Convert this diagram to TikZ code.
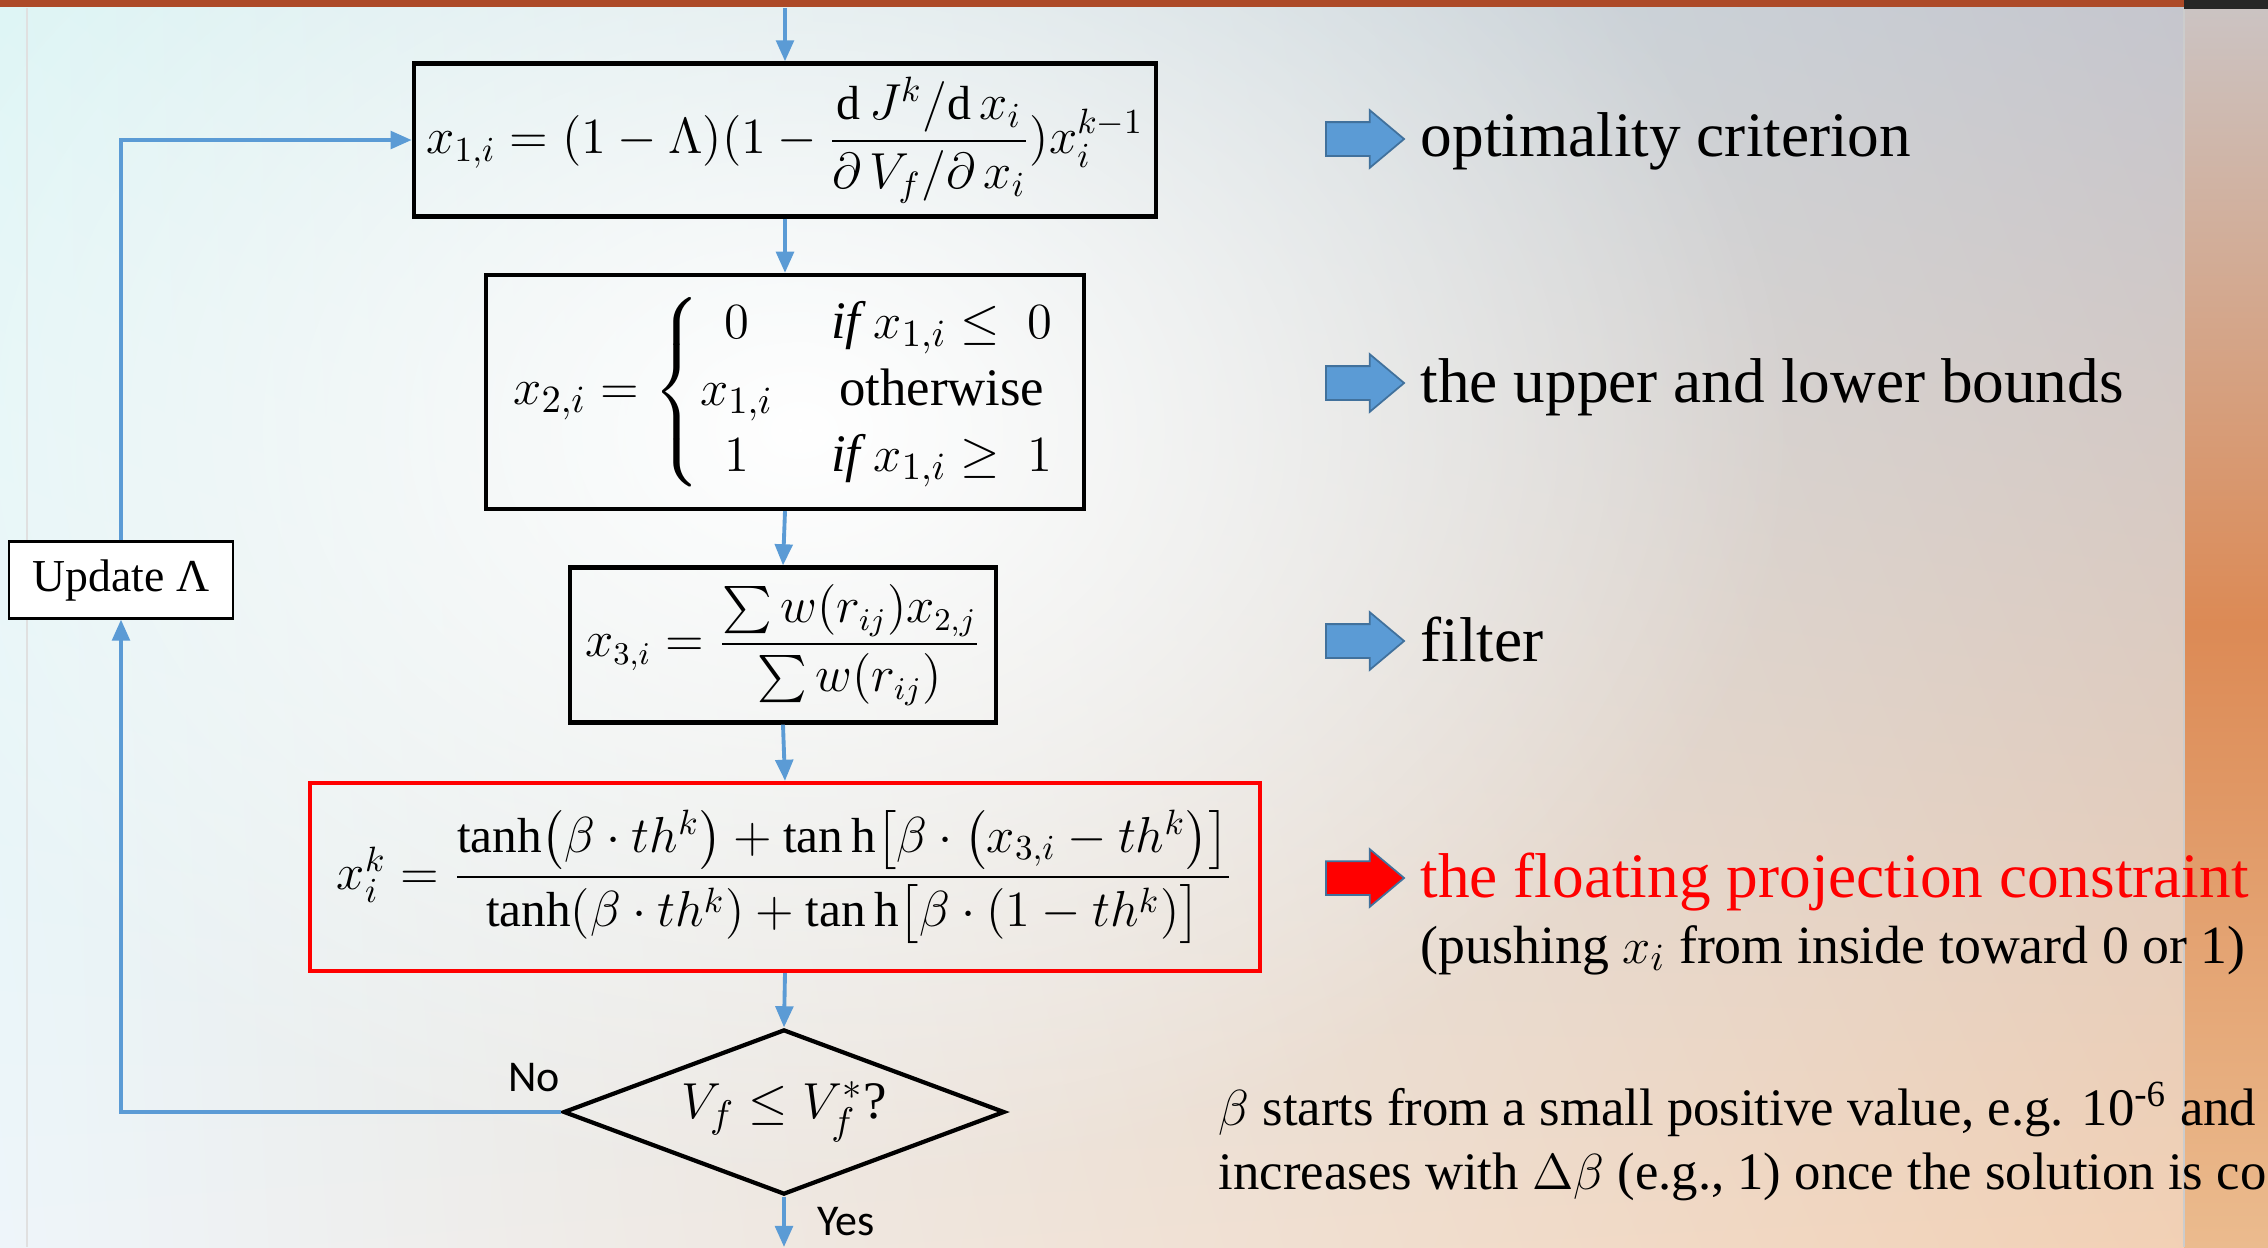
\documentclass[tikz,border=0pt]{standalone}
\usepackage{amsmath}
\usepackage{amssymb}
\usepackage{fontspec}
\setmainfont{Liberation Serif}
\newfontfamily\calib{Carlito}
\usetikzlibrary{positioning,calc,arrows.meta,shapes.geometric,shapes.arrows,fadings,shadings}
\usepackage{xcolor}
\definecolor{lineblue}{HTML}{5B9BD5}
\definecolor{edgeblue}{HTML}{41719C}
\definecolor{barbrown}{HTML}{AD4A28}
\definecolor{bgcyan}{HTML}{DDF5F5}
\definecolor{bggray}{HTML}{C4C4CC}
\definecolor{bgpale}{HTML}{EEF5FA}
\definecolor{bgpeach}{HTML}{F2CFB2}
\definecolor{striptop}{HTML}{CBC4C4}
\definecolor{stripmid}{HTML}{DC8A55}
\definecolor{stripbot}{HTML}{EBBB8E}
\tikzfading[name=glow, inner color=transparent!0, outer color=transparent!100]

\begin{document}
\begin{tikzpicture}[
    x=0.01cm, y=-0.01cm,
    eqbox/.style={draw=black, line width=1.2pt, inner sep=0pt, font=\fontsize{14}{17}\selectfont},
    redbox/.style={eqbox, draw=red},
    testbox/.style={diamond, draw=black, line width=1.2pt, inner sep=0pt, shape aspect=2.67,
        font=\fontsize{15}{18}\selectfont},
    updbox/.style={draw=black, fill=white, line width=0.6pt, inner sep=0pt, font=\fontsize{13}{15}\selectfont},
    flow/.style={draw=lineblue, line width=1.1pt, -{Triangle[length=6pt, width=5pt]}},
    blkarrow/.style={single arrow, fill=lineblue, draw=edgeblue, line width=0.5pt, inner sep=0.16cm,
        minimum height=0.78cm, minimum width=0.56cm, single arrow head extend=0.12cm, single arrow tip angle=80},
    note/.style={anchor=base west, inner sep=0pt, font=\fontsize{18}{22}\selectfont},
    small/.style={anchor=base west, inner sep=0pt, font=\fontsize{15.3}{18}\selectfont},
    yn/.style={font=\calib\fontsize{12.5}{15}\selectfont},
]
% background of the slide
\useasboundingbox (0,0) rectangle (2268,1247);
\clip (0,0) rectangle (2268,1247);
\shade[upper left=bgcyan, upper right=bggray, lower left=bgpale, lower right=bgpeach] (0,0) rectangle (2268,1247);
\fill[white, path fading=glow] (800,430) ellipse [x radius=1000, y radius=760];
\shade[top color=striptop, bottom color=stripbot, middle color=stripmid] (2184,0) rectangle (2268,1247);
\draw[black!20, line width=0.5pt] (2184,8) -- (2184,1247);
\draw[black!12, line width=0.5pt] (27,8) -- (27,1247);
\fill[barbrown] (0,0) rectangle (2184,7);
\fill[black!85] (2184,0) rectangle (2268,9);

% flow chart
\coordinate (topin) at (785,8);
\node[eqbox, minimum width=7.42cm, minimum height=1.53cm, font=\fontsize{13.6}{16}\selectfont] (ocbox) at (785,140)
    {$x_{1,i} = (1-\Lambda)(1-\dfrac{\mathrm{d}\,J^k/\mathrm{d}\,x_i}{\partial\,V_f/\partial\,x_i})x_i^{k-1}$};
\node[eqbox, minimum width=5.97cm, minimum height=2.34cm, font=\fontsize{15}{18}\selectfont] (bdbox) at (785,392)
    {\renewcommand\arraystretch{1.05}$x_{2,i} = \left\{\begin{array}{@{}c@{\hspace{1.1em}}c@{}}
        0 & \mathit{if}\ x_{1,i} \le\ 0 \\
        x_{1,i} & \text{otherwise} \\
        1 & \mathit{if}\ x_{1,i} \ge\ 1
    \end{array}\right.$};
\node[eqbox, minimum width=4.25cm, minimum height=1.55cm, font=\fontsize{13.4}{16}\selectfont] (flbox) at (783,645)
    {$x_{3,i} = \dfrac{\textstyle\sum w(r_{ij})x_{2,j}}{\textstyle\sum w(r_{ij})}$};
\node[redbox, minimum width=9.5cm, minimum height=1.88cm] (fpbox) at (785,877)
    {$x_i^k = \dfrac{\tanh\bigl(\beta\cdot th^k\bigr) + \tan\mathrm{h}\bigl[\beta\cdot\bigl(x_{3,i}-th^k\bigr)\bigr]}
        {\tanh(\beta\cdot th^k) + \tan\mathrm{h}\bigl[\beta\cdot(1-th^k)\bigr]}$};
\node[testbox, minimum width=4.41cm, minimum height=1.65cm] (check) at (784,1112)
    {$V_f \le V_f^{*}$?};
\node[updbox, minimum width=2.23cm, minimum height=0.77cm] (upd) at (121,580) {Update Λ};
\coordinate (yesend) at (784,1247);

\draw[flow] (topin) -- (ocbox.north);
\draw[flow] (ocbox.south) -- (bdbox.north);
\draw[flow] (bdbox.south) -- (flbox.north);
\draw[flow] (flbox.south) -- (fpbox.north);
\draw[flow] (fpbox.south) -- (check.north);
\draw[flow] (check.south) -- (yesend);
\draw[flow] (check.west) -| (upd.south);
\draw[flow] (upd.north) |- (ocbox.west);
\node[yn] (nolbl) at (534,1078) {No};
\node[yn] (yeslbl) at (846,1222) {Yes};

% notes on the right
\node[blkarrow] (arr1) at (1355,139) {};
\node[note] (txt1) at (1420,156) {optimality criterion};
\node[blkarrow] (arr2) at (1355,383) {};
\node[note] (txt2) at (1420,402) {the upper and lower bounds};
\node[blkarrow] (arr3) at (1355,641) {};
\node[note] (txt3) at (1420,661) {filter};
\node[blkarrow, fill=red] (arr4) at (1355,878) {};
\node[note, text=red] (txt4) at (1420,897) {the floating projection constraint};
\node[small] (txt5) at (1420,963) {(pushing $x_i$ from inside toward 0 or 1)};
\node[small, font=\fontsize{15}{18}\selectfont] (beta1) at (1218,1125)
    {$\beta$ starts from a small positive value, e.g. 10\textsuperscript{-6} and};
\node[small, font=\fontsize{15}{18}\selectfont] (beta2) at (1218,1189)
    {increases with $\Delta\beta$ (e.g., 1) once the solution is co};
\end{tikzpicture}
\end{document}
